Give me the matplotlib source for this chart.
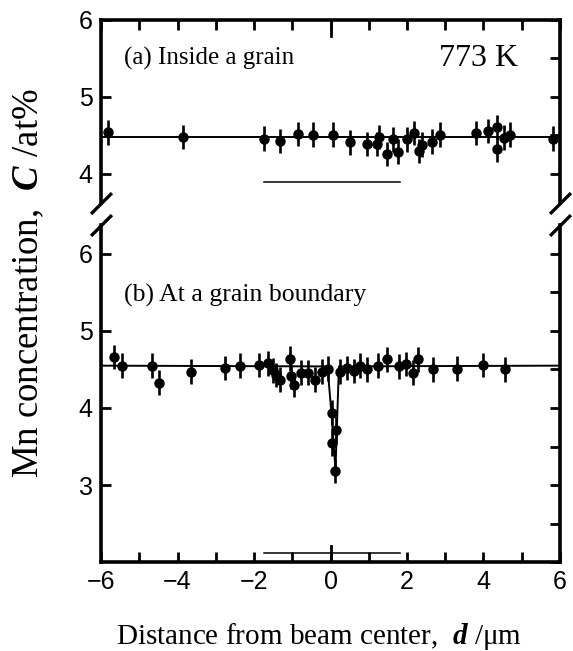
import matplotlib.pyplot as plt
from matplotlib.ticker import MultipleLocator

plt.rcParams['font.family'] = 'Liberation Serif'
plt.rcParams['mathtext.fontset'] = 'custom'
plt.rcParams['mathtext.rm'] = 'Liberation Serif'
plt.rcParams['mathtext.it'] = 'Liberation Serif:italic'
plt.rcParams['mathtext.bf'] = 'Liberation Serif:bold'
plt.rcParams['mathtext.bfit'] = 'Liberation Serif:italic:bold'

# (a) inside a grain
d_a = [-5.81, -3.86, -1.73, -1.31, -0.84, -0.47, 0.06, 0.51, 0.95, 1.22, 1.28,
       1.48, 1.63, 1.76, 2.00, 2.19, 2.32, 2.38, 2.65, 2.86, 3.80, 4.13, 4.35,
       4.35, 4.53, 4.68, 5.83]
c_a = [4.54, 4.48, 4.46, 4.43, 4.52, 4.51, 4.51, 4.41, 4.39, 4.39, 4.48,
       4.26, 4.45, 4.29, 4.45, 4.53, 4.30, 4.38, 4.42, 4.51, 4.53, 4.56, 4.61,
       4.32, 4.47, 4.51, 4.46]

# (b) at a grain boundary
d_b = [-5.67, -5.45, -4.67, -4.49, -3.66, -2.75, -2.36, -1.86, -1.64, -1.51,
       -1.42, -1.31, -1.06, -1.04, -0.95, -0.77, -0.60, -0.41, -0.23, -0.06,
       0.03, 0.03, 0.14, 0.13, 0.26, 0.43, 0.61, 0.78, 0.95, 1.23, 1.48, 1.78,
       1.97, 2.15, 2.30, 2.69, 3.30, 3.99, 4.55]
c_b = [4.66, 4.55, 4.55, 4.33, 4.47, 4.52, 4.55, 4.56, 4.58, 4.49,
       4.43, 4.37, 4.64, 4.41, 4.30, 4.46, 4.46, 4.37, 4.47, 4.51,
       3.94, 3.54, 3.72, 3.18, 4.47, 4.52, 4.48, 4.55, 4.50, 4.55, 4.63, 4.54,
       4.57, 4.46, 4.63, 4.50, 4.51, 4.56, 4.50]

err = 0.16

# fitted profiles
fit_a_d = [-6, 6]
fit_a_c = [4.48, 4.48]
fit_b_d = [-6, -0.08, 0.03, 0.13, 0.22, 6]
fit_b_c = [4.55, 4.54, 3.9, 3.2, 4.54, 4.55]

# beam size bars
bar_d = [-1.73, 1.83]
bar_a_c = [3.89, 3.89]
bar_b_c = [2.12, 2.12]

fig = plt.figure(figsize=(5.73, 6.51), dpi=100)
ax1 = fig.add_axes([0.1763, 0.6882, 0.801, 0.2811])
ax2 = fig.add_axes([0.1763, 0.1367, 0.801, 0.5177])

for ax, d, c, fd, fc, bc in [(ax1, d_a, c_a, fit_a_d, fit_a_c, bar_a_c),
                              (ax2, d_b, c_b, fit_b_d, fit_b_c, bar_b_c)]:
    ax.plot(fd, fc, color='k', lw=1.4, zorder=2)
    ax.errorbar(d, c, yerr=err, fmt='o', color='k', ms=6.5, elinewidth=1.9,
                capsize=0, zorder=3)
    ax.plot(bar_d, bc, color='k', lw=1.1)
    ax.set_xlim(-6, 6)
    ax.xaxis.set_major_locator(MultipleLocator(2))
    ax.xaxis.set_minor_locator(MultipleLocator(1))
    ax.yaxis.set_major_locator(MultipleLocator(1))
    ax.yaxis.set_minor_locator(MultipleLocator(0.5))
    ax.tick_params(which='both', direction='in', length=7.5, width=2,
                   labelsize=18, pad=6)
    ax.tick_params(which='major', left=True, right=True)
    ax.tick_params(which='minor', left=False, right=True)
    for s in ax.spines.values():
        s.set_linewidth(2.6)
    for lab in ax.get_xticklabels() + ax.get_yticklabels():
        lab.set_fontfamily('Liberation Sans')

ax1.set_ylim(6 - 183 / 77, 6)
ax2.set_ylim(2, 2 + 337 / 77)
ax2.set_yticks([3, 4, 5, 6])

ax1.xaxis.set_ticks_position('top')
ax1.tick_params(labeltop=False, labelbottom=False)
ax1.spines['bottom'].set_visible(False)
ax1.axvline(0, 1 - 0.088, 1, color='k', lw=2)

ax2.xaxis.set_ticks_position('bottom')
ax2.spines['top'].set_visible(False)
ax2.axvline(0, 0, 0.048, color='k', lw=2)

# break marks
brk = dict(marker=[(-1, -1), (1, 1)], markersize=15, linestyle='none',
           color='k', mec='k', mew=2.4, clip_on=False)
ax1.plot([0, 1], [0, 0], transform=ax1.transAxes, **brk)
ax2.plot([0, 1], [1, 1], transform=ax2.transAxes, **brk)

ax1.text(0.05, 0.79, '(a) Inside a grain', transform=ax1.transAxes,
         fontsize=18, va='center')
ax1.text(0.908, 0.79, '773 K', transform=ax1.transAxes, fontsize=23,
         va='center', ha='right')
ax2.text(0.05, 0.792, '(b) At a grain boundary', transform=ax2.transAxes,
         fontsize=18.5, va='center')

fig.text(0.05, 0.565, r'Mn concentration,  $\mathbfit{C}$ /at%', rotation=90,
         ha='center', va='center', fontsize=26.5)
fig.text(0.556, 0.023, r'Distance from beam center,  $\mathbfit{d}$ /μm',
         ha='center', va='center', fontsize=21)

fig.savefig('out.png', dpi=100)
